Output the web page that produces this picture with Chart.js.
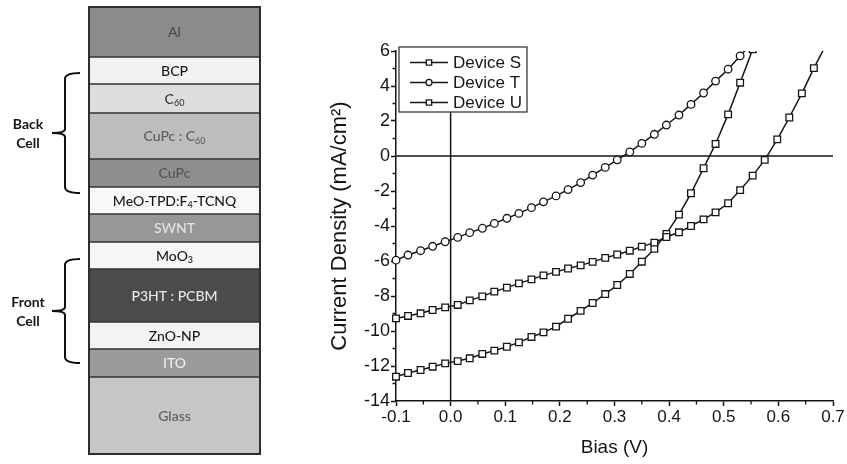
<!DOCTYPE html>
<html><head><meta charset="utf-8">
<script src="https://cdn.jsdelivr.net/npm/chart.js@4.4.1/dist/chart.umd.min.js"></script>
<style>
html,body{margin:0;padding:0;background:#fff;}
#wrap{position:relative;width:847px;height:464px;overflow:hidden;background:#fff;}
#stack{position:absolute;left:0;top:0;}
#jv{position:absolute;left:300px;top:0;}
</style></head><body>
<div id="wrap">
<canvas id="stack" width="300" height="464"></canvas>
<canvas id="jv" width="547" height="464"></canvas>
</div>
<script>
// ---------- device layer stack (listed bottom to top) ----------
const layerNames = ['Glass','ITO','ZnO-NP','P3HT : PCBM','MoO_{3}','SWNT','MeO-TPD:F_{4}-TCNQ','CuPc','CuPc : C_{60}','C_{60}','BCP','Al'];
const layerThickness = [77,28,27,53,27,28,27,28,46,29,27,50];
const layerFill = ['#c6c6c6','#9b9b9b','#f3f3f3','#4b4b4b','#f6f6f6','#979797','#f8f8f8','#8f8f8f','#bdbdbd','#dddddd','#f2f2f2','#8b8b8b'];
const layerTextColor = ['#5e5e5e','#eeeeee','#1a1a1a','#e8e8e8','#1a1a1a','#e2e2e2','#1a1a1a','#555555','#5e5e5e','#3a3a3a','#1a1a1a','#4a4a4a'];
const cellLabels = [['Back','Cell'],['Front','Cell']];
const cellTop = [381,195];
const cellBottom = [261,91];

// ---------- J-V curves ----------
const biasV = [-0.1,-0.078,-0.055,-0.033,-0.01,0.013,0.035,0.058,0.08,0.103,0.125,0.148,0.17,0.193,0.215,0.238,0.26,0.283,0.305,0.328,0.35,0.373,0.395,0.418,0.44,0.463,0.485,0.508,0.53,0.553,0.575,0.598,0.62,0.643,0.665,0.688];
const deviceS = [-9.28,-9.14,-8.99,-8.80,-8.65,-8.51,-8.25,-8.02,-7.75,-7.52,-7.28,-7.05,-6.82,-6.62,-6.43,-6.25,-6.05,-5.82,-5.63,-5.41,-5.18,-4.95,-4.63,-4.36,-4.00,-3.62,-3.22,-2.70,-1.95,-1.12,-0.22,0.95,2.20,3.58,5.02,6.40];
const deviceT = [-5.95,-5.66,-5.41,-5.16,-4.90,-4.65,-4.38,-4.13,-3.85,-3.56,-3.28,-2.95,-2.62,-2.28,-1.92,-1.52,-1.09,-0.65,-0.22,0.23,0.72,1.24,1.77,2.34,2.95,3.60,4.28,4.96,5.72,6.50];
const deviceU = [-12.61,-12.40,-12.23,-12.04,-11.85,-11.72,-11.56,-11.31,-11.12,-10.90,-10.65,-10.34,-10.08,-9.75,-9.30,-8.85,-8.40,-7.89,-7.37,-6.74,-6.04,-5.30,-4.45,-3.35,-2.13,-0.70,0.69,2.38,4.19,6.10];
const seriesNames = ['Device S','Device T','Device U'];
const seriesMarkers = ['rect','circle','rect'];
const xTickValues = [-0.1,-0.05,0,0.05,0.1,0.15,0.2,0.25,0.3,0.35,0.4,0.45,0.5,0.55,0.6,0.65,0.7];
const xTickLabels = ['-0.1','','0.0','','0.1','','0.2','','0.3','','0.4','','0.5','','0.6','','0.7'];
const yTickValues = [-14,-13,-12,-11,-10,-9,-8,-7,-6,-5,-4,-3,-2,-1,0,1,2,3,4,5,6];
const yTickLabels = ['-14','','-12','','-10','','-8','','-6','','-4','','-2','','0','','2','','4','','6'];

const SANS = "'Liberation Sans', Arial, sans-serif";
const INK = '#151515';

// ---------- helpers ----------
function parseRich(s){
  const segs=[]; const re=/_\{([^}]*)\}/g; let last=0, m;
  while((m=re.exec(s))){ if(m.index>last) segs.push({t:s.slice(last,m.index),sub:false}); segs.push({t:m[1],sub:true}); last=re.lastIndex; }
  if(last<s.length) segs.push({t:s.slice(last),sub:false});
  return segs;
}
function drawRich(ctx, s, cx, cy, size, family, color, weight){
  const segs=parseRich(s);
  const w0 = weight ? weight+' ' : '';
  const fMain = w0+size+'px '+family, fSub = w0+Math.round(size*0.62)+'px '+family;
  let w=0;
  segs.forEach(g=>{ ctx.font=g.sub?fSub:fMain; g.w=ctx.measureText(g.t).width; w+=g.w; });
  let x=cx-w/2;
  ctx.fillStyle=color; ctx.textBaseline='middle'; ctx.textAlign='left';
  segs.forEach(g=>{ ctx.font=g.sub?fSub:fMain; ctx.fillText(g.t,x,cy+(g.sub?size*0.32:0)); x+=g.w; });
}

// ---------- left: layer stack as stacked bar ----------
const LABEL_FONT = "Lato, 'Open Sans', sans-serif";
const stackPlugin = {
  id:'stackDecor',
  afterDatasetsDraw(chart){
    const ctx = chart.ctx, a = chart.chartArea, ys = chart.scales.y;
    ctx.save();
    const first = chart.getDatasetMeta(0).data[0];
    const last = chart.getDatasetMeta(chart.data.datasets.length-1).data[0];
    const left = first.x - first.width/2, right = first.x + first.width/2;
    ctx.strokeStyle='#2e2e2e'; ctx.lineWidth=2;
    ctx.strokeRect(left, last.y, right-left, first.base-last.y);
    chart.data.datasets.forEach((ds,i)=>{
      const el = chart.getDatasetMeta(i).data[0];
      drawRich(ctx, ds.label, el.x, (el.y+el.base)/2 + 0.5, 14, LABEL_FONT, layerTextColor[i], '500');
    });
    cellLabels.forEach((lines,i)=>{
      const y1 = ys.getPixelForValue(cellTop[i]), y2 = ys.getPixelForValue(cellBottom[i]);
      const ym = (y1+y2)/2;
      const xr = a.left-9, xv = a.left-24, xt = a.left-37;
      ctx.strokeStyle='#111'; ctx.lineWidth=2;
      ctx.beginPath();
      ctx.moveTo(xr,y1);
      ctx.quadraticCurveTo(xv,y1,xv,y1+6);
      ctx.lineTo(xv,ym-4);
      ctx.quadraticCurveTo(xv,ym,xt,ym);
      ctx.quadraticCurveTo(xv,ym,xv,ym+4);
      ctx.lineTo(xv,y2-6);
      ctx.quadraticCurveTo(xv,y2,xr,y2);
      ctx.stroke();
      drawRich(ctx, lines[0], a.left-61, ym-9, 14, LABEL_FONT, '#151515', 'bold');
      drawRich(ctx, lines[1], a.left-61, ym+10, 14, LABEL_FONT, '#151515', 'bold');
    });
    ctx.restore();
  }
};

new Chart(document.getElementById('stack'), {
  type:'bar',
  data:{
    labels:['stack'],
    datasets: layerNames.map((n,i)=>({
      label:n, data:[layerThickness[i]],
      backgroundColor:layerFill[i], borderColor:'#353535', borderWidth:1, borderSkipped:false,
      barPercentage:1, categoryPercentage:1
    }))
  },
  options:{
    responsive:false, animation:false,
    layout:{padding:{left:89,right:40,top:7,bottom:10}},
    plugins:{legend:{display:false}, tooltip:{enabled:false}},
    scales:{
      x:{stacked:true, display:false},
      y:{stacked:true, display:false, min:0, max:layerThickness.reduce((s,v)=>s+v,0)}
    }
  },
  plugins:[stackPlugin]
});

// ---------- right: J-V chart ----------
const zeroPlugin = {
  id:'zeroLines',
  beforeDatasetsDraw(chart){
    const {ctx, chartArea:a, scales:{x,y}} = chart;
    const px = x.getPixelForValue(0), py = y.getPixelForValue(0);
    ctx.save(); ctx.strokeStyle=INK; ctx.lineWidth=1.5;
    ctx.beginPath(); ctx.moveTo(a.left,py); ctx.lineTo(a.right,py);
    ctx.moveTo(px,a.top); ctx.lineTo(px,a.bottom); ctx.stroke();
    ctx.lineWidth=1.3;
    ctx.beginPath();
    xTickValues.forEach((v,i)=>{ if(xTickLabels[i]==='') { const p=x.getPixelForValue(v); ctx.moveTo(p,a.bottom); ctx.lineTo(p,a.bottom+3.5);} });
    yTickValues.forEach((v,i)=>{ if(yTickLabels[i]==='') { const p=y.getPixelForValue(v); ctx.moveTo(a.left,p); ctx.lineTo(a.left-3.5,p);} });
    ctx.stroke();
    ctx.restore();
  }
};

function drawMarker(ctx, style, r, x, y){
  ctx.beginPath();
  if(style==='circle'){ ctx.arc(x,y,r,0,Math.PI*2); }
  else { const s=r*Math.SQRT1_2; ctx.rect(x-s,y-s,2*s,2*s); }
  ctx.fill(); ctx.stroke();
}

const legendPlugin = {
  id:'boxLegend',
  afterDatasetsDraw(chart){
    const {ctx, chartArea:a} = chart;
    const bx = a.left+3, by = a.top-4, bw = 128, bh = 65;
    ctx.save();
    ctx.fillStyle='#fff'; ctx.fillRect(bx,by,bw,bh);
    ctx.strokeStyle='#3a3a3a'; ctx.lineWidth=1.3; ctx.strokeRect(bx,by,bw,bh);
    chart.data.datasets.forEach((ds,i)=>{
      const y = by + 15.5 + i*20;
      const x0 = bx + 11, x1 = x0 + 38;
      ctx.strokeStyle=ds.borderColor; ctx.lineWidth=ds.borderWidth;
      ctx.beginPath(); ctx.moveTo(x0,y); ctx.lineTo(x1,y); ctx.stroke();
      ctx.fillStyle=ds.pointBackgroundColor; ctx.strokeStyle=ds.pointBorderColor; ctx.lineWidth=ds.pointBorderWidth;
      drawMarker(ctx, ds.pointStyle, ds.pointRadius*0.8, (x0+x1)/2, y);
      ctx.fillStyle=INK; ctx.font="17px "+SANS; ctx.textBaseline='middle'; ctx.textAlign='left';
      ctx.fillText(ds.label, x1+5, y+1);
    });
    ctx.restore();
  }
};

const seriesValues = [deviceS, deviceT, deviceU];
new Chart(document.getElementById('jv'), {
  type:'line',
  data:{
    datasets: seriesValues.map((arr,i)=>({
      label:seriesNames[i],
      data: arr.map((v,k)=>({x:biasV[k], y:v})),
      borderColor:INK, borderWidth:1.5, backgroundColor:'#fff',
      pointStyle:seriesMarkers[i], pointRadius: seriesMarkers[i]==='circle'?3.8:4.7,
      pointBorderWidth:1.3, pointBorderColor:INK, pointBackgroundColor:'#fff',
      tension:0, fill:false, clip:{left:6,right:0,top:0,bottom:0}
    }))
  },
  options:{
    responsive:false, animation:false,
    layout:{padding:{left:0,right:14,top:51,bottom:0}},
    plugins:{legend:{display:false}, tooltip:{enabled:false}},
    scales:{
      x:{
        type:'linear', min:-0.1, max:0.7,
        afterBuildTicks: s => { s.ticks = xTickValues.map(v=>({value:v})); },
        afterFit: s => { s.height = 63; },
        grid:{drawOnChartArea:false, drawTicks:true, tickLength:5, tickWidth:1.5,
              tickColor: c => (xTickLabels[c.index]==='' ? 'rgba(0,0,0,0)' : INK)},
        border:{display:true, color:INK, width:1.5},
        ticks:{autoSkip:false, maxRotation:0, padding:1, color:INK, font:{family:SANS, size:17},
               callback:(v,i)=>xTickLabels[i]},
        title:{display:true, text:'Bias (V)', color:INK, font:{family:SANS, size:19}, padding:{top:0,bottom:5}}
      },
      y:{
        type:'linear', min:-14, max:6,
        afterBuildTicks: s => { s.ticks = yTickValues.map(v=>({value:v})); },
        afterFit: s => { s.width = 96; },
        grid:{drawOnChartArea:false, drawTicks:true, tickLength:5, tickWidth:1.5,
              tickColor: c => (yTickLabels[c.index]==='' ? 'rgba(0,0,0,0)' : INK)},
        border:{display:true, color:INK, width:1.5},
        ticks:{autoSkip:false, padding:1, color:INK, font:{family:SANS, size:18},
               callback:(v,i)=>yTickLabels[i]},
        title:{display:true, text:'Current Density (mA/cm²)', color:INK, font:{family:SANS, size:22}, padding:{top:27,bottom:0}}
      }
    }
  },
  plugins:[zeroPlugin, legendPlugin]
});
</script>
</body></html>
